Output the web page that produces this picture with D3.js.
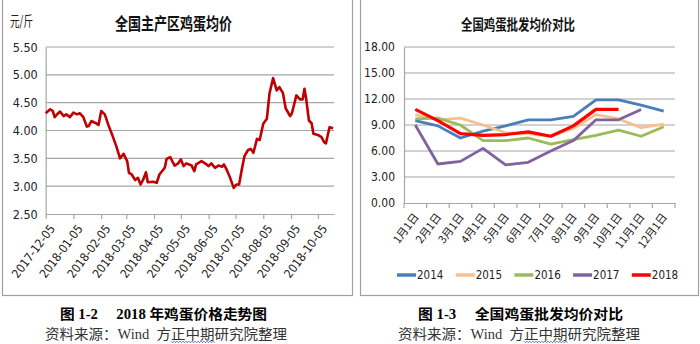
<!DOCTYPE html>
<html><head><meta charset="utf-8">
<script src="https://cdn.jsdelivr.net/npm/d3@7"></script>
<style>body{margin:0;background:#fff}svg{display:block}</style>
</head><body>
<svg id="c" width="700" height="344"></svg>
<script>
// ---- Figure 1-2: national main-producing-area egg average price (元/斤)
const priceDates = ["2017-12-05","2017-12-10","2017-12-13","2017-12-15","2017-12-19","2017-12-21","2017-12-25","2017-12-28",
  "2018-01-01","2018-01-05","2018-01-09","2018-01-12","2018-01-16","2018-01-20","2018-01-22","2018-01-25","2018-01-29",
  "2018-02-02","2018-02-05","2018-02-09","2018-02-13","2018-02-18","2018-02-22","2018-02-26","2018-03-02","2018-03-06",
  "2018-03-08","2018-03-11","2018-03-15","2018-03-18","2018-03-21","2018-03-24","2018-03-27","2018-03-29","2018-04-04",
  "2018-04-08","2018-04-11","2018-04-17","2018-04-19","2018-04-23","2018-04-28","2018-05-02","2018-05-05","2018-05-08",
  "2018-05-11","2018-05-17","2018-05-20","2018-05-22","2018-05-28","2018-06-01","2018-06-05","2018-06-08","2018-06-12",
  "2018-06-16","2018-06-20","2018-06-22","2018-06-25","2018-06-29","2018-07-03","2018-07-06","2018-07-09","2018-07-12",
  "2018-07-15","2018-07-19","2018-07-22","2018-07-25","2018-07-29","2018-08-01","2018-08-05","2018-08-09","2018-08-12",
  "2018-08-16","2018-08-20","2018-08-23","2018-08-27","2018-08-30","2018-09-04","2018-09-06","2018-09-11","2018-09-15",
  "2018-09-18","2018-09-20","2018-09-22","2018-09-25","2018-09-28","2018-09-30","2018-10-05","2018-10-09","2018-10-12",
  "2018-10-14","2018-10-18","2018-10-22"];
const priceValues = [4.31,4.38,4.35,4.24,4.31,4.34,4.26,4.29,
  4.24,4.32,4.29,4.31,4.24,4.07,4.08,4.17,4.14,
  4.10,4.35,4.29,4.10,3.89,3.71,3.50,3.58,3.45,
  3.24,3.21,3.11,3.15,3.03,3.12,3.25,3.07,3.08,
  3.06,3.21,3.33,3.49,3.52,3.37,3.41,3.48,3.36,
  3.41,3.37,3.27,3.39,3.45,3.41,3.36,3.41,3.33,
  3.37,3.35,3.39,3.30,3.15,2.97,3.03,3.03,3.30,
  3.54,3.65,3.67,3.60,3.85,3.83,4.12,4.21,4.67,
  4.94,4.72,4.78,4.67,4.40,4.26,4.31,4.63,4.56,
  4.56,4.75,4.56,4.18,4.13,3.94,3.92,3.88,3.79,
  3.77,4.06,4.04];
const priceTicks = [2.5,3.0,3.5,4.0,4.5,5.0,5.5];

// ---- Figure 1-3: national egg wholesale average price by year
const monthLabels = ["1月1日","2月1日","3月1日","4月1日","5月1日","6月1日","7月1日","8月1日","9月1日","10月1日","11月1日","12月1日"];
const yearNames = ["2014","2015","2016","2017","2018"];
const yearColors = ["#4a7ebb","#f9bf8f","#9bbb59","#7f62a0","#ff0000"];
const v2014 = [9.5,8.9,7.5,8.3,8.9,9.6,9.6,10.0,11.9,11.9,11.3,10.6];
const v2015 = [10.2,9.6,9.8,9.0,8.1,8.0,7.7,8.6,10.2,9.7,8.7,9.1];
const v2016 = [9.7,9.8,9.0,7.2,7.2,7.5,6.8,7.3,7.8,8.4,7.7,8.8];
const v2017 = [9.0,4.5,4.8,6.3,4.4,4.7,6.0,7.2,9.6,9.6,10.8];
const v2018 = [10.8,9.5,8.0,7.8,7.9,8.2,7.7,8.9,10.8,10.8];
const wholesaleTicks = [0,3,6,9,12,15,18];

const NARROW = "'Liberation Sans Narrow','DejaVu Sans Condensed','Liberation Sans',sans-serif";
const CJK = "'Noto Sans CJK SC',sans-serif";
const CAPTION = "'Liberation Serif','Noto Sans CJK SC',serif";
const GRID = "#a6a6a6";

const svg = d3.select("#c");

// panel frames
svg.append("rect").attr("x",2.5).attr("y",-2).attr("width",350).attr("height",297.5)
  .attr("fill","none").attr("stroke","#a0a0a0").attr("stroke-width",1.2);
svg.append("rect").attr("x",360.5).attr("y",-2).attr("width",338).attr("height",297.5)
  .attr("fill","none").attr("stroke","#a0a0a0").attr("stroke-width",1.2);

// ================= left chart =================
const parse = d3.timeParse("%Y-%m-%d");
const priceData = priceDates.map((d,i)=>({date:parse(d), value:priceValues[i]}));
const xL = d3.scaleTime().domain([parse("2017-12-05"), parse("2018-10-23")]).range([45.7,334]);
const yL = d3.scaleLinear().domain([2.5,5.5]).range([214,47]);
const gL = svg.append("g");

gL.append("g").selectAll("line").data(priceTicks.slice(1)).join("line")
  .attr("x1",45.7).attr("x2",334).attr("y1",d=>yL(d)).attr("y2",d=>yL(d))
  .attr("stroke",GRID).attr("stroke-width",1.2);

const yAxisL = gL.append("g").attr("transform","translate(45.7,0)")
  .call(d3.axisLeft(yL).tickValues(priceTicks).tickFormat(d3.format(".2f")).tickSize(0).tickPadding(8));
yAxisL.select(".domain").attr("stroke",GRID).attr("stroke-width",1.2);
yAxisL.selectAll("text").attr("font-family",NARROW).attr("font-size",12.5).attr("fill","#222");

const tickDates = d3.timeMonth.every(1).range(parse("2017-12-01"), parse("2018-10-06")).map(d=>d3.timeDay.offset(d,4));
const xAxisL = gL.append("g").attr("transform","translate(0,214)")
  .call(d3.axisBottom(xL).tickValues(tickDates).tickFormat(d3.timeFormat("%Y-%m-%d")).tickSize(5).tickSizeOuter(0));
xAxisL.select(".domain").attr("stroke",GRID).attr("stroke-width",1.2);
xAxisL.selectAll(".tick line").attr("stroke",GRID).attr("stroke-width",1.2);
xAxisL.selectAll("text").attr("font-family",NARROW).attr("font-size",12).attr("fill","#222")
  .attr("text-anchor","end").attr("dx",0).attr("dy",0)
  .attr("transform","translate(3,10) rotate(-53)");

gL.append("path").datum(priceData)
  .attr("d",d3.line().x(d=>xL(d.date)).y(d=>yL(d.value)))
  .attr("fill","none").attr("stroke","#c00000").attr("stroke-width",2.6).attr("stroke-linejoin","round");

svg.append("text").attr("x",10).attr("y",26).attr("font-family",CJK).attr("font-size",14)
  .attr("textLength",23).attr("lengthAdjust","spacingAndGlyphs").attr("fill","#222").text("元/斤");
svg.append("text").attr("x",115).attr("y",30).attr("font-family",CJK).attr("font-size",17).attr("font-weight",700)
  .attr("textLength",117).attr("lengthAdjust","spacingAndGlyphs").attr("fill","#111").text("全国主产区鸡蛋均价");

// ================= right chart =================
const xR = d3.scaleBand().domain(monthLabels).range([404,675]);
const cx = m => xR(m) + xR.bandwidth()/2;
const yR = d3.scaleLinear().domain([0,18]).range([203,47]);
const gR = svg.append("g");

gR.append("g").selectAll("line").data(wholesaleTicks.slice(1)).join("line")
  .attr("x1",404).attr("x2",675).attr("y1",d=>yR(d)).attr("y2",d=>yR(d))
  .attr("stroke",GRID).attr("stroke-width",1.2);

const yAxisR = gR.append("g").attr("transform","translate(404,0)")
  .call(d3.axisLeft(yR).tickValues(wholesaleTicks).tickFormat(d3.format(".2f")).tickSize(0).tickPadding(9));
yAxisR.select(".domain").attr("stroke",GRID).attr("stroke-width",1.2);
yAxisR.selectAll("text").attr("font-family",NARROW).attr("font-size",12).attr("fill","#222");

const xAxisR = gR.append("g").attr("transform","translate(0,203)")
  .call(d3.axisBottom(xR).tickSize(0));
xAxisR.select(".domain").attr("stroke",GRID).attr("stroke-width",1.2);
// category separators as tick marks
gR.append("g").selectAll("line").data(monthLabels.concat(["end"])).join("line")
  .attr("x1",(d,i)=> i<12 ? xR(d) : 675).attr("x2",(d,i)=> i<12 ? xR(d) : 675)
  .attr("y1",203).attr("y2",208).attr("stroke",GRID).attr("stroke-width",1.2);
xAxisR.selectAll("text").attr("font-family",CJK).attr("font-size",11).attr("fill","#222")
  .attr("text-anchor","end").attr("dy",0)
  .attr("transform","translate(4,14) rotate(-53)")
  .attr("y",0);

const series = [v2014,v2015,v2016,v2017,v2018];
const lineR = d3.line().x((d,i)=>cx(monthLabels[i])).y(d=>yR(d));
gR.append("g").selectAll("path").data(series).join("path")
  .attr("d",d=>lineR(d)).attr("fill","none")
  .attr("stroke",(d,i)=>yearColors[i]).attr("stroke-width",(d,i)=> i===4 ? 3.2 : 2.8)
  .attr("stroke-linejoin","round");

// legend
const lg = gR.append("g").selectAll("g").data(yearNames).join("g")
  .attr("transform",(d,i)=>`translate(${397 + i*58.7},275)`);
lg.append("line").attr("x1",0).attr("x2",19).attr("y1",0).attr("y2",0)
  .attr("stroke",(d,i)=>yearColors[i]).attr("stroke-width",3.5);
lg.append("text").attr("x",20).attr("y",4).attr("font-family",NARROW).attr("font-size",11.5)
  .attr("fill","#222").text(d=>d);

svg.append("text").attr("x",461).attr("y",30).attr("font-family",CJK).attr("font-size",14.5).attr("font-weight",700)
  .attr("textLength",114).attr("lengthAdjust","spacingAndGlyphs").attr("fill","#111").text("全国鸡蛋批发均价对比");

// ================= captions =================
function caption(x, len, txt){
  return svg.append("text").attr("x",x).attr("y",319).attr("font-family",CAPTION).attr("font-size",14)
    .attr("font-weight",700).attr("textLength",len).attr("lengthAdjust","spacingAndGlyphs").attr("fill","#000")
    .attr("xml:space","preserve").style("white-space","pre").text(txt);
}
caption(60,207,"图 1-2     2018 年鸡蛋价格走势图");
caption(418,205,"图 1-3     全国鸡蛋批发均价对比");

function source(x, len){
  const t = svg.append("text").attr("x",x).attr("y",339).attr("font-family",CAPTION).attr("font-size",14)
    .attr("textLength",len).attr("lengthAdjust","spacingAndGlyphs").attr("fill","#333")
    .style("white-space","pre").text("资料来源：Wind  方正中期研究院整理");
  // spell-check style wavy underline under 正中期
  const s = t.node().getStartPositionOfChar(12).x, e = t.node().getEndPositionOfChar(14).x;
  const pts = d3.range(s, e, 1.5).map((px,i)=>[px, 341.5 + (i%2 ? 1.2 : -0.3)]);
  svg.append("path").attr("d",d3.line()(pts)).attr("fill","none").attr("stroke","#3a5fcd").attr("stroke-width",0.9);
}
source(45,242);
source(398,242);
</script>
</body></html>
